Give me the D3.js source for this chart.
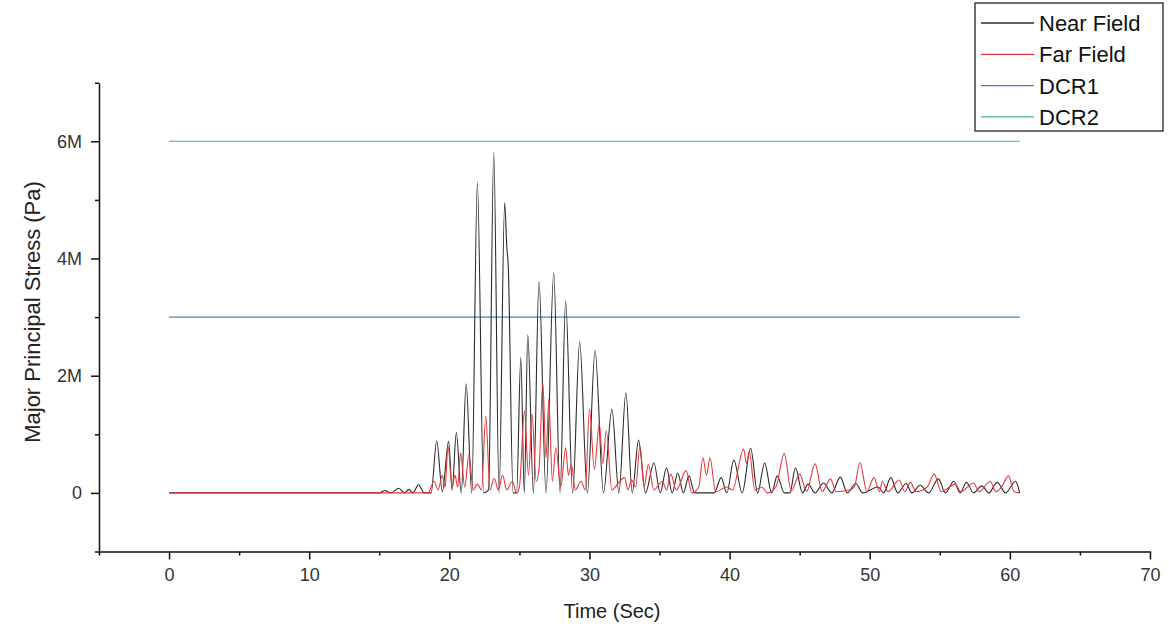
<!DOCTYPE html>
<html>
<head>
<meta charset="utf-8">
<script src="https://cdn.jsdelivr.net/npm/d3@7"></script>
<style>
  html, body { margin: 0; padding: 0; background: #fff; }
  svg { display: block; font-family: "Liberation Sans", Arial, sans-serif; }
</style>
</head>
<body>
<svg id="chart" width="1169" height="632"></svg>
<script>
// Stress records, time in seconds, stress in MPa: [time, stress]
const nearField = [
  [0,0],[15.0,0],[15.4,0.04],[15.8,0],[16.4,0.08],[16.8,0],[17.1,0.06],[17.4,0],[17.8,0.14],[18.2,0],
  [18.7,0],[19.1,0.89],[19.5,0.02],[19.95,0.88],[20.2,0.05],[20.5,1.03],[20.85,0],[21.2,1.86],[21.6,0],
  [22.0,5.30],[22.45,0],[22.8,0.05],[23.17,5.81],[23.55,0],[23.95,4.95],[24.1,4.2],[24.2,3.9],[24.55,0],
  [24.8,0],[25.1,2.31],[25.35,0],[25.6,2.70],[26.0,0],[26.4,3.61],[26.9,0],[27.45,3.76],[27.9,0],
  [28.3,3.28],[28.8,0],[29.3,2.58],[29.85,0],[30.4,2.43],[31.0,0],[31.6,1.43],[32.1,0],[32.6,1.71],
  [33.05,0],[33.5,0.90],[34.0,0],[34.6,0.51],[35.05,0],[35.5,0.43],[35.9,0],[36.3,0.34],[36.7,0],
  [37.1,0.29],[37.5,0],[38.9,0],[39.4,0.26],[39.8,0],[40.3,0.56],[40.9,0],[41.5,0.76],[42.0,0],
  [42.5,0.51],[43.0,0],[43.4,0.29],[43.9,0],[44.3,0],[44.7,0.43],[45.2,0],[45.6,0.15],[46.1,0],
  [46.7,0.17],[47.3,0],[47.9,0.27],[48.4,0],[49.0,0.16],[49.5,0],[50.6,0.10],[51.0,0],[51.5,0.26],
  [52.0,0],[52.6,0.16],[53.0,0],[53.6,0.13],[54.2,0],[54.9,0.24],[55.4,0],[56.0,0.20],[56.45,0],
  [56.9,0.18],[57.4,0],[58.0,0.12],[58.5,0],[59.1,0.18],[59.7,0],[60.4,0.20],[60.7,0]
];

const farField = [
  [0,0],[18.5,0],[18.9,0.2],[19.2,0.05],[19.5,0.3],[19.7,0.1],[19.9,0.8],[20.2,0.1],[20.4,0.3],
  [20.6,0.1],[20.8,0.68],[21.1,0.1],[21.4,0.66],[21.7,0.05],[22.0,0.15],[22.3,0.05],[22.6,1.31],
  [22.9,0.05],[23.2,0.25],[23.5,0.05],[23.8,0.3],[24.1,0.05],[24.5,0.2],[24.8,0],[25.0,0.1],
  [25.36,1.40],[25.65,0.3],[25.9,1.35],[26.2,0.2],[26.4,0.4],[26.67,1.88],[26.9,0.6],[27.1,1.6],
  [27.35,0.2],[27.6,0.77],[27.95,0.1],[28.3,0.77],[28.5,0.3],[28.7,0.49],[29.0,0.05],[29.4,0.2],
  [29.7,0.05],[30.0,1.43],[30.35,0.4],[30.7,1.18],[30.95,0.5],[31.2,1.06],[31.6,0.05],[32.0,0.15],
  [32.5,0.26],[32.75,0.05],[33.0,0.22],[33.3,0.1],[33.6,0.8],[33.9,0.1],[34.2,0.49],[34.6,0.05],
  [35.2,0.2],[35.5,0.05],[35.8,0.32],[36.2,0.05],[36.9,0.38],[37.3,0],[37.8,0.1],[38.1,0.6],
  [38.35,0.3],[38.6,0.6],[39.0,0.02],[39.8,0.1],[40.2,0.05],[41.0,0.75],[41.2,0.5],[41.4,0.7],
  [41.8,0.05],[42.3,0.1],[42.7,0],[43.3,0.1],[43.9,0.67],[44.4,0.03],[45.0,0.32],[45.5,0.02],
  [46.1,0.5],[46.6,0.02],[47.2,0.24],[47.6,0.02],[48.5,0.05],[48.9,0.1],[49.3,0.52],[49.8,0.02],
  [50.3,0.26],[50.7,0.02],[50.9,0.2],[51.3,0.02],[52.1,0.22],[52.5,0.02],[52.9,0.18],[53.3,0.02],
  [54.1,0.1],[54.6,0.32],[55.1,0.02],[56.1,0.15],[56.5,0.02],[57.4,0.17],[57.8,0.02],[58.6,0.2],
  [59.0,0.02],[59.4,0.1],[59.9,0.29],[60.3,0.02],[60.7,0]
];

// Design capacity reference levels (MPa) over the record duration
const dcrTime = [0, 60.7];
const dcr1 = [3, 3];
const dcr2 = [6, 6];

const xTicks = [0, 10, 20, 30, 40, 50, 60, 70];
const xMinorTicks = [-5, 5, 15, 25, 35, 45, 55, 65];
const yTicks = [0, 2e6, 4e6, 6e6];
const yMinorTicks = [-1e6, 1e6, 3e6, 5e6, 7e6];

const series = [
  { name: "Near Field", color: "#2b2b2b", data: nearField },
  { name: "Far Field",  color: "#e8383d", data: farField },
  { name: "DCR1",       color: "#4a7cc4", data: dcrTime.map((t, i) => [t, dcr1[i]]) },
  { name: "DCR2",       color: "#45b57a", data: dcrTime.map((t, i) => [t, dcr2[i]]) }
];

const MPA = 1e6;
const svg = d3.select("#chart");

const x = d3.scaleLinear().domain([-5, 70]).range([99, 1150]);
const y = d3.scaleLinear().domain([-1e6, 7e6]).range([551.5, 82.7]);

// reference levels first, then the two stress traces
const drawOrder = [series[3], series[2], series[0], series[1]];
const lineGen = d3.line()
  .x(d => x(d[0]))
  .y(d => y(d[1] * MPA))
  .curve(d3.curveMonotoneX);

svg.append("g").selectAll("path")
  .data(drawOrder)
  .join("path")
  .attr("d", s => lineGen(s.data))
  .attr("fill", "none")
  .attr("stroke", s => s.color)
  .attr("stroke-width", 1.1)
  .attr("stroke-linejoin", "round");

// axes
const fmtY = d => d === 0 ? "0" : d3.format("~s")(d);

svg.append("g")
  .attr("transform", `translate(0,${y.range()[0]})`)
  .call(d3.axisBottom(x).tickValues(xTicks).tickSize(8).tickPadding(9).tickSizeOuter(0));
svg.append("g")
  .attr("transform", `translate(0,${y.range()[0]})`)
  .call(d3.axisBottom(x).tickValues(xMinorTicks).tickSize(4).tickFormat("").tickSizeOuter(0))
  .select(".domain").remove();

svg.append("g")
  .attr("transform", `translate(${x.range()[0]},0)`)
  .call(d3.axisLeft(y).tickValues(yTicks).tickFormat(fmtY).tickSize(8).tickPadding(9).tickSizeOuter(0));
svg.append("g")
  .attr("transform", `translate(${x.range()[0]},0)`)
  .call(d3.axisLeft(y).tickValues(yMinorTicks).tickSize(4).tickFormat("").tickSizeOuter(0))
  .select(".domain").remove();

svg.selectAll(".domain, .tick line").attr("stroke", "#111").attr("stroke-width", 1.5);
svg.selectAll(".tick text")
  .attr("fill", "#333")
  .attr("font-size", 18)
  .attr("font-family", "'Liberation Sans', Arial, sans-serif");

// axis titles
svg.append("text")
  .attr("x", 612).attr("y", 618)
  .attr("text-anchor", "middle")
  .attr("fill", "#222")
  .attr("font-size", 20)
  .text("Time (Sec)");

svg.append("text")
  .attr("transform", "translate(40,312) rotate(-90)")
  .attr("text-anchor", "middle")
  .attr("fill", "#222")
  .attr("font-size", 22)
  .text("Major Principal Stress (Pa)");

// legend
const legend = svg.append("g").attr("transform", "translate(975,3)");
legend.append("rect")
  .attr("width", 188).attr("height", 128)
  .attr("fill", "#fff").attr("stroke", "#111").attr("stroke-width", 1.2);
const items = legend.selectAll("g.item")
  .data(series)
  .join("g")
  .attr("class", "item")
  .attr("transform", (d, i) => `translate(0,${20 + i * 31.3})`);
items.append("line")
  .attr("x1", 6).attr("x2", 59)
  .attr("stroke", d => d.color).attr("stroke-width", 1.3);
items.append("text")
  .attr("x", 64).attr("dy", "0.36em")
  .attr("fill", "#111")
  .attr("font-size", 22)
  .text(d => d.name);
</script>
</body>
</html>
